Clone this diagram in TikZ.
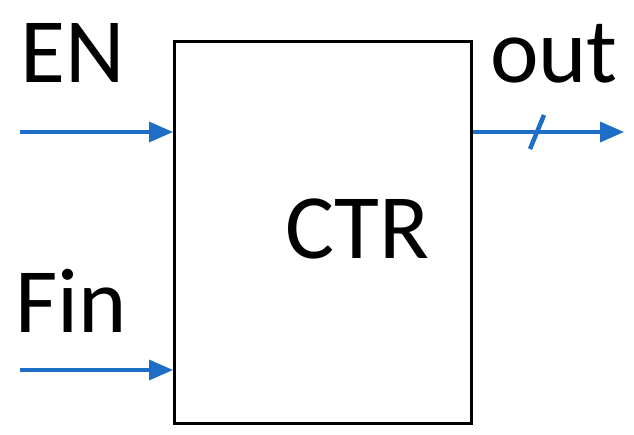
\documentclass[tikz,border=0pt]{standalone}
\usepackage{fontspec}
\setmainfont{Carlito}
\usetikzlibrary{arrows.meta}
\definecolor{wireblue}{RGB}{30,110,200}
\begin{document}
\begin{tikzpicture}[x=1pt,y=-1pt,
  wire/.style={wireblue,line width=3.5pt,-{Triangle[length=24pt,width=20pt]}},
  lbl/.style={font=\fontsize{92}{92}\selectfont,inner sep=0pt,anchor=base west}]
\useasboundingbox (0,0) rectangle (634,434);
\node[draw,line width=3pt,minimum width=297pt,minimum height=382pt,anchor=north west,inner sep=0pt] (ctr) at (173,40) {};
\node[lbl] (ctrl) at (285,258) {CTR};
\node[lbl] (en) at (20,82) {EN};
\node[lbl] (fin) at (15,332) {Fin};
\node[lbl] (out) at (490,82) {out};
\coordinate (ens) at (20,132);
\coordinate (fins) at (20,370);
\coordinate (oute) at (624,132);
\draw[wire] (ens) -- (ens -| ctr.west);
\draw[wire] (fins) -- (fins -| ctr.west);
\draw[wire] (oute -| ctr.east) -- (oute);
\coordinate (sl) at (537,132);
\draw[wireblue,line width=4.5pt] ([shift={(-7,17)}]sl) -- ([shift={(7,-17)}]sl);
\end{tikzpicture}
\end{document}
